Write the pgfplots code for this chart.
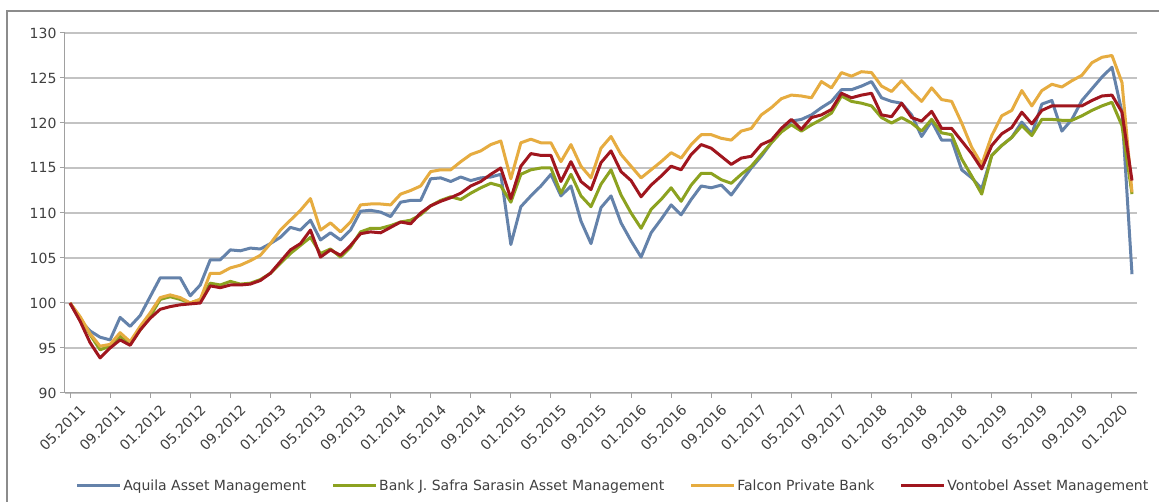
\documentclass[border=0pt]{standalone}
\usepackage{fontspec}
\setmainfont{DejaVu Sans}
\usepackage{pgfplots}
\usepackage{pgfplotstable}
\pgfplotsset{compat=1.18}
\definecolor{cA}{RGB}{100,130,170}
\definecolor{cB}{RGB}{140,162,32}
\definecolor{cF}{RGB}{230,172,64}
\definecolor{cV}{RGB}{160,22,30}
\definecolor{gridc}{RGB}{195,195,195}
\definecolor{axc}{RGB}{160,160,160}
\definecolor{txt}{RGB}{64,64,64}
\newcommand\f{\fontsize{14}{16}\selectfont}
\pgfplotstableread{
i A B F V
0 100 100 100 100
1 98.1 98.4 98.5 98.0
2 96.9 96.5 96.6 95.6
3 96.2 94.8 95.2 93.9
4 95.9 95.2 95.4 95.0
5 98.4 96.3 96.7 95.9
6 97.4 95.4 95.7 95.3
7 98.6 97.0 97.4 97.0
8 100.7 98.5 98.9 98.3
9 102.8 100.4 100.6 99.3
10 102.8 100.7 100.9 99.6
11 102.8 100.4 100.6 99.8
12 100.8 100.0 100.0 99.9
13 102.0 100.4 100.4 100.0
14 104.8 102.2 103.3 101.9
15 104.8 102.0 103.3 101.7
16 105.9 102.4 103.9 102.0
17 105.8 102.1 104.2 102.0
18 106.1 102.2 104.7 102.1
19 106.0 102.6 105.3 102.5
20 106.6 103.3 106.6 103.3
21 107.3 104.4 108.1 104.6
22 108.4 105.5 109.2 105.9
23 108.1 106.4 110.3 106.6
24 109.2 107.3 111.6 108.1
25 107.0 105.5 108.1 105.1
26 107.8 106.0 108.9 105.9
27 107.0 105.1 107.9 105.3
28 108.1 106.2 109.0 106.4
29 110.2 107.9 110.9 107.7
30 110.3 108.3 111.0 107.9
31 110.1 108.3 111.0 107.8
32 109.6 108.6 110.9 108.4
33 111.2 109.0 112.1 109.0
34 111.4 109.2 112.5 108.8
35 111.4 109.8 113.0 110.0
36 113.8 110.8 114.6 110.8
37 113.9 111.4 114.8 111.3
38 113.5 111.8 114.8 111.7
39 114.0 111.5 115.7 112.2
40 113.6 112.2 116.5 113.0
41 113.9 112.8 116.9 113.5
42 114.0 113.3 117.6 114.3
43 114.3 113.0 118.0 115.0
44 106.5 111.2 113.8 111.6
45 110.7 114.3 117.8 115.2
46 111.9 114.8 118.2 116.6
47 113.0 115.0 117.8 116.4
48 114.3 115.0 117.8 116.4
49 111.9 112.2 115.7 113.5
50 113.0 114.3 117.6 115.7
51 109.1 111.9 115.2 113.5
52 106.6 110.7 113.9 112.6
53 110.6 113.2 117.2 115.6
54 111.9 114.8 118.5 116.9
55 108.9 112.0 116.5 114.6
56 106.9 110.0 115.2 113.6
57 105.1 108.3 113.9 111.8
58 107.8 110.4 114.8 113.1
59 109.3 111.5 115.7 114.1
60 110.9 112.8 116.7 115.2
61 109.8 111.3 116.1 114.8
62 111.5 113.1 117.6 116.5
63 113.0 114.4 118.7 117.6
64 112.8 114.4 118.7 117.2
65 113.1 113.7 118.3 116.3
66 112.0 113.3 118.1 115.4
67 113.5 114.3 119.1 116.1
68 115.0 115.2 119.4 116.3
69 116.3 116.5 120.9 117.6
70 117.8 117.8 121.7 118.1
71 119.2 119.0 122.7 119.4
72 120.2 119.8 123.1 120.4
73 120.4 119.1 123.0 119.3
74 120.9 119.8 122.8 120.6
75 121.7 120.4 124.6 120.9
76 122.4 121.1 123.9 121.5
77 123.7 123.0 125.6 123.3
78 123.7 122.4 125.2 122.8
79 124.1 122.2 125.7 123.1
80 124.6 121.9 125.6 123.3
81 122.8 120.6 124.1 120.9
82 122.4 120.0 123.5 120.7
83 122.2 120.6 124.7 122.2
84 120.9 120.0 123.5 120.6
85 118.5 119.1 122.4 120.2
86 120.2 120.4 123.9 121.3
87 118.1 118.9 122.6 119.4
88 118.1 118.7 122.4 119.4
89 114.8 116.0 120.0 118.0
90 113.9 114.1 117.3 116.6
91 112.7 112.1 115.4 114.9
92 116.4 116.4 118.6 117.5
93 117.5 117.5 120.8 118.8
94 118.4 118.4 121.4 119.5
95 120.1 119.7 123.6 121.2
96 118.8 118.6 121.9 119.9
97 122.1 120.4 123.6 121.4
98 122.5 120.4 124.3 121.9
99 119.1 120.3 124.0 121.9
100 120.4 120.3 124.7 121.9
101 122.5 120.8 125.3 121.9
102 123.8 121.4 126.7 122.5
103 125.1 121.9 127.3 123.0
104 126.2 122.3 127.5 123.1
105 121.2 119.7 124.5 121.2
106 103.2 112.1 112.3 113.6
}\data
\begin{document}
\begin{tikzpicture}
\fill[white] (0,0) rectangle (1159pt,502pt);
\useasboundingbox (0,0) rectangle (1159pt,502pt);
\draw[color={rgb,255:red,140;green,140;blue,140}, line width=1.6pt] (7pt,0pt) -- (7pt,491pt) -- (1159pt,491pt);
\begin{axis}[
  at={(65pt,109pt)}, anchor=south west,
  scale only axis, width=1072pt, height=360pt,
  xmin=-0.5, xmax=106.5, ymin=90, ymax=130,
  ytick={90,95,...,130},
  xtick={0,4,...,104},
  xticklabels={05.2011,09.2011,01.2012,05.2012,09.2012,01.2013,05.2013,09.2013,01.2014,05.2014,09.2014,01.2015,05.2015,09.2015,01.2016,05.2016,09.2016,01.2017,05.2017,09.2017,01.2018,05.2018,09.2018,01.2019,05.2019,09.2019,01.2020},
  axis x line*=bottom, axis y line*=left,
  axis line style={draw=axc, line width=1pt},
  tick align=outside, major tick length=5pt,
  tick style={draw=axc, line width=1pt},
  ymajorgrids, grid style={draw=gridc, line width=1.2pt},
  /pgf/number format/assume math mode=true,
  yticklabel style={font=\f, text=txt},
  xticklabel style={font=\f, text=txt, xshift=13pt, yshift=-9pt, rotate=45, anchor=east, inner sep=0pt},
  legend columns=4,
  legend style={at={(0.511,-0.258)}, anchor=center, draw=none, fill=none, font=\f, text=txt,
    /tikz/every even column/.append style={column sep=24pt}, nodes={inner sep=1.5pt}},
  legend cell align=left,
  legend image code/.code={\draw[#1] (0pt,0pt) -- (43pt,0pt);},
  every axis plot/.append style={line width=3pt, line join=round},
]
\addplot[cA] table[x=i,y=A]{\data};
\addlegendentry{Aquila Asset Management}
\addplot[cB] table[x=i,y=B]{\data};
\addlegendentry{Bank J. Safra Sarasin Asset Management}
\addplot[cF] table[x=i,y=F]{\data};
\addlegendentry{Falcon Private Bank}
\addplot[cV] table[x=i,y=V]{\data};
\addlegendentry{Vontobel Asset Management}
\end{axis}
\end{tikzpicture}
\end{document}
